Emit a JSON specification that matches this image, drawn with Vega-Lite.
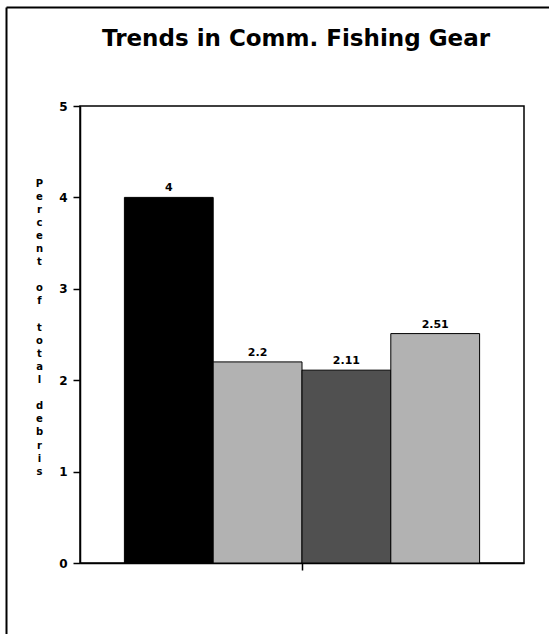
{
  "$schema": "https://vega.github.io/schema/vega-lite/v6.json",
  "autosize": {"type": "none"},
  "padding": {"left": 80, "top": 106, "right": 25, "bottom": 71},
  "width": 444,
  "height": 457,
  "background": "white",
  "config": {
    "view": {"stroke": "black", "strokeWidth": 1.5},
    "font": "DejaVu Sans"
  },
  "title": {
    "text": "Trends in Comm. Fishing Gear",
    "font": "DejaVu Sans",
    "fontSize": 23,
    "fontWeight": "bold",
    "color": "black",
    "anchor": "middle",
    "frame": "group",
    "baseline": "alphabetic",
    "offset": -62,
    "dx": -6
  },
  "data": {
    "values": [
      {"period": "1", "percent": 4},
      {"period": "2", "percent": 2.2},
      {"period": "3", "percent": 2.11},
      {"period": "4", "percent": 2.51}
    ]
  },
  "layer": [
    {
      "encoding": {
        "x": {
          "field": "period",
          "type": "nominal",
          "sort": ["1", "2", "3", "4"],
          "scale": {"type": "band", "paddingInner": 0, "paddingOuter": 0.5},
          "axis": {
            "orient": "bottom",
            "values": ["3"],
            "bandPosition": 0,
            "labels": false,
            "title": null,
            "grid": false,
            "tickSize": 7,
            "tickWidth": 1.5,
            "tickColor": "black",
            "domainColor": "black",
            "domainWidth": 1.5
          }
        },
        "y": {
          "field": "percent",
          "type": "quantitative",
          "scale": {"domain": [0, 5], "nice": false},
          "axis": {
            "orient": "left",
            "values": [0, 1, 2, 3, 4, 5],
            "grid": false,
            "tickSize": 7,
            "tickWidth": 1.5,
            "tickColor": "black",
            "domainColor": "black",
            "domainWidth": 1.5,
            "labelPadding": 6,
            "labelFont": "DejaVu Sans",
            "labelFontSize": 12,
            "labelFontWeight": "bold",
            "labelColor": "black",
            "title": ["P", "e", "r", "c", "e", "n", "t", "\u2800", "o", "f", "\u2800", "t", "o", "t", "a", "l", "\u2800", "d", "e", "b", "r", "i", "s"],
            "titleAngle": 0,
            "titleX": -41,
            "titleY": 80,
            "titleAlign": "center",
            "titleBaseline": "alphabetic",
            "titleFont": "DejaVu Sans",
            "titleFontSize": 10,
            "titleFontWeight": "bold",
            "titleColor": "black",
            "titleLineHeight": 13.1
          }
        }
      },
      "layer": [
        {
          "mark": {"type": "bar", "stroke": "black", "strokeWidth": 1},
          "encoding": {
            "color": {
              "field": "period",
              "type": "nominal",
              "scale": {"domain": ["1", "2", "3", "4"], "range": ["#000000", "#b2b2b2", "#505050", "#b2b2b2"]},
              "legend": null
            }
          }
        },
        {
          "mark": {"type": "text", "baseline": "bottom", "dy": -4, "font": "DejaVu Sans", "fontSize": 11, "fontWeight": "bold", "color": "black"},
          "encoding": {
            "text": {"field": "percent", "type": "quantitative"}
          }
        }
      ]
    },
    {
      "data": {"values": [{"f": 0}]},
      "mark": {"type": "point", "opacity": 0},
      "encoding": {
        "x": {
          "datum": 0,
          "type": "quantitative",
          "scale": {"domain": [0, 1], "range": [-74, 469]},
          "axis": {"orient": "top", "offset": 99, "ticks": false, "labels": false, "title": null, "grid": false, "domainColor": "black", "domainWidth": 2}
        },
        "y": {
          "datum": 0,
          "type": "quantitative",
          "scale": {"domain": [0, 1], "range": [528, -99]},
          "axis": {"orient": "left", "offset": 74, "ticks": false, "labels": false, "title": null, "grid": false, "domainColor": "black", "domainWidth": 2}
        }
      }
    }
  ],
  "resolve": {
    "scale": {"x": "independent", "y": "independent"},
    "axis": {"x": "independent", "y": "independent"}
  }
}
